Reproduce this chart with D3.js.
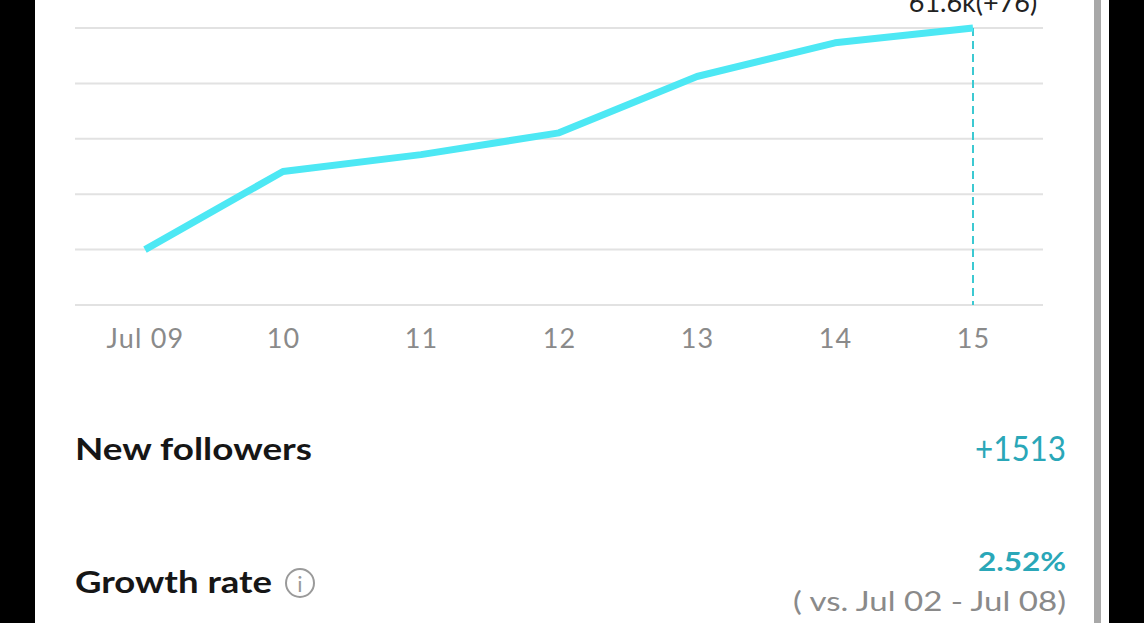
<!DOCTYPE html>
<html><head><meta charset="utf-8">
<script src="https://cdn.jsdelivr.net/npm/d3@7"></script>
<style>html,body{margin:0;padding:0;background:#fff;}svg{display:block;}</style>
</head><body>
<svg id="chart" width="1144" height="623"></svg>
<script>
const dates = ["Jul 09","10","11","12","13","14","15"];
const followers = [60480, 60875, 60960, 61070, 61355, 61525, 61600];
const yTicks = [60200, 60480, 60760, 61040, 61320, 61600];
const peakLabel = "61.6k(+76)";
const newFollowers = "+1513";
const growthRate = "2.52%";
const compare = "( vs. Jul 02 - Jul 08)";

const svg = d3.select("#chart");
const font = "Lato, 'Open Sans', sans-serif";

// frame
svg.append("rect").attr("x",0).attr("y",0).attr("width",35).attr("height",623).attr("fill","#000");
svg.append("rect").attr("x",1109).attr("y",0).attr("width",35).attr("height",623).attr("fill","#000");
svg.append("rect").attr("x",1094).attr("y",0).attr("width",7).attr("height",623).attr("fill","#a8a8a8");

const x = d3.scalePoint().domain(dates).range([145, 973]);
const y = d3.scaleLinear().domain([60200, 61600]).range([305, 28]);

// gridlines
svg.append("g").selectAll("line").data(yTicks).join("line")
  .attr("x1",75).attr("x2",1043)
  .attr("y1",d=>y(d)).attr("y2",d=>y(d))
  .attr("stroke","#e2e2e2").attr("stroke-width",2);

// x axis labels
const xAxis = d3.axisBottom(x).tickSize(0).tickPadding(0);
const gx = svg.append("g").attr("transform","translate(0,305)").call(xAxis);
gx.select(".domain").remove();
gx.selectAll("text").attr("y",43).attr("dy",0).attr("font-family",font).attr("font-size",27)
  .attr("letter-spacing",1.2).attr("fill","#8a8a8a");

// dashed marker
const last = dates.length-1;
svg.append("line").attr("x1",x(dates[last])).attr("x2",x(dates[last]))
  .attr("y1",y(followers[last])).attr("y2",305)
  .attr("stroke","#3cc9d2").attr("stroke-width",2).attr("stroke-dasharray","8,5");

// line
svg.append("path").datum(followers)
  .attr("d", d3.line().x((d,i)=>x(dates[i])).y(d=>y(d)))
  .attr("fill","none").attr("stroke","#4de8f4").attr("stroke-width",7)
  .attr("stroke-linejoin","round");

// peak label
svg.append("text").attr("x",x(dates[last])).attr("y",12).attr("text-anchor","middle")
  .attr("font-family",font).attr("font-size",27).attr("fill","#222").text(peakLabel);

// summary rows
svg.append("text").attr("x",75).attr("y",460).attr("font-family",font).attr("font-weight",700)
  .attr("font-size",30).attr("fill","#161616")
  .attr("textLength",237).attr("lengthAdjust","spacingAndGlyphs").text("New followers");
svg.append("text").attr("x",1066).attr("y",461).attr("text-anchor","end").attr("font-family",font)
  .attr("font-size",35).attr("fill","#2aa7b8")
  .attr("textLength",91).attr("lengthAdjust","spacingAndGlyphs").text(newFollowers);

svg.append("text").attr("x",75).attr("y",593).attr("font-family",font).attr("font-weight",700)
  .attr("font-size",30).attr("fill","#161616")
  .attr("textLength",197).attr("lengthAdjust","spacingAndGlyphs").text("Growth rate");
svg.append("circle").attr("cx",300).attr("cy",583).attr("r",14).attr("fill","none").attr("stroke","#9a9a9a").attr("stroke-width",2);
svg.append("text").attr("x",300).attr("y",592).attr("text-anchor","middle").attr("font-family",font)
  .attr("font-size",22).attr("fill","#9a9a9a").text("i");

svg.append("text").attr("x",1066).attr("y",571).attr("text-anchor","end").attr("font-family",font)
  .attr("font-weight",700).attr("font-size",26).attr("fill","#2aa7b8")
  .attr("textLength",88).attr("lengthAdjust","spacingAndGlyphs").text(growthRate);
svg.append("text").attr("x",1066).attr("y",611).attr("text-anchor","end").attr("font-family",font)
  .attr("font-size",26).attr("fill","#8a8a8a")
  .attr("textLength",273).attr("lengthAdjust","spacingAndGlyphs").text(compare);
</script>
</body></html>
